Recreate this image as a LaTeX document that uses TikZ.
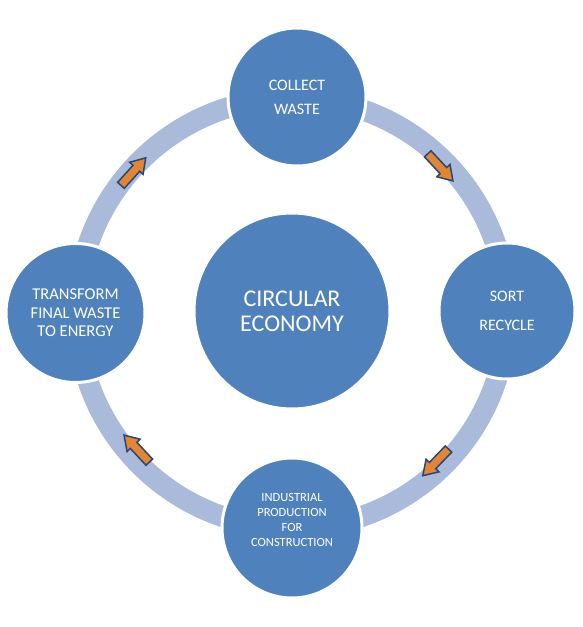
\documentclass[tikz,border=0pt]{standalone}
\usepackage{fontspec}
\setmainfont{Carlito}
\definecolor{bubblue}{RGB}{79,129,189}
\definecolor{ringblue}{RGB}{170,186,218}
\definecolor{arroworange}{RGB}{226,134,52}
\definecolor{arrowedge}{RGB}{40,70,120}
\tikzset{
  bubble/.style={circle, fill=bubblue, draw=white, line width=3pt, text=white, align=center, inner sep=0pt},
  ringline/.style={draw=ringblue, line width=21pt},
  flowarrow/.pic={\draw[fill=arroworange, draw=arrowedge, line width=1.5pt, line join=miter]
     (-18,-4.5) -- (5,-4.5) -- (5,-9) -- (19,0) -- (5,9) -- (5,4.5) -- (-18,4.5) -- cycle;}
}
\begin{document}
\begin{tikzpicture}[x=1pt,y=1pt]
\useasboundingbox (0,0) rectangle (583,627);
\coordinate (ringc) at (292,314);
\draw[ringline] (ringc) circle[radius=215];
\pic[rotate=-47] at (440,460) {flowarrow};
\pic[rotate=48] at (133,455) {flowarrow};
\pic[rotate=226] at (436,165) {flowarrow};
\pic[rotate=133] at (137,178) {flowarrow};
\node[bubble, minimum size=196pt, font=\fontsize{24}{25}\selectfont] (center) at (292,316) {CIRCULAR\\ECONOMY};
\node[bubble, minimum size=138pt, font=\fontsize{16}{24}\selectfont] (collect) at (297,530) {COLLECT\\WASTE};
\node[bubble, minimum size=136pt, font=\fontsize{16}{29}\selectfont] (sort) at (507,316) {SORT\\RECYCLE};
\node[bubble, minimum size=139pt, font=\fontsize{16.5}{18.5}\selectfont] (transform) at (75.5,314) {TRANSFORM\\FINAL WASTE\\TO ENERGY};
\node[bubble, minimum size=140pt] (industrial) at (292,99) {};
\node[text=white, align=center, font=\fontsize{12.5}{14.7}\selectfont] (industxt) at ([yshift=8pt]industrial.center) {INDUSTRIAL\\PRODUCTION\\FOR\\CONSTRUCTION};
\end{tikzpicture}
\end{document}
